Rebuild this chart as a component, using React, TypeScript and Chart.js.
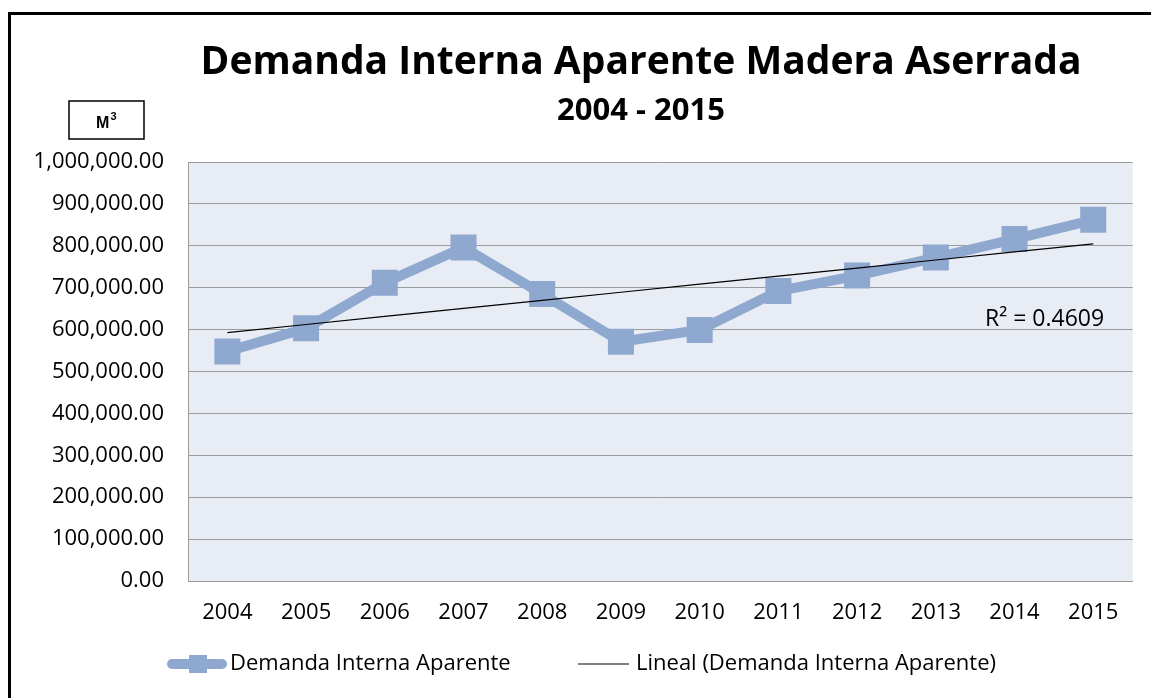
import React, { useEffect, useRef } from "react";
import { Chart, registerables } from "chart.js";

Chart.register(...registerables);

const years = ["2004", "2005", "2006", "2007", "2008", "2009", "2010", "2011", "2012", "2013", "2014", "2015"];
const demanda = [548000, 603000, 712000, 796000, 685000, 571000, 599000, 692000, 729000, 772000, 816000, 862000];
const titleText = "Demanda Interna Aparente Madera Aserrada";
const subtitleText = "2004 - 2015";
const seriesLabel = "Demanda Interna Aparente";
const trendLabel = "Lineal (Demanda Interna Aparente)";
const r2Text = "R² = 0.4609";
const unitText = "M";
const unitSup = "3";

const FONT = "'Open Sans', 'DejaVu Sans', sans-serif";
const SERIES_COLOR = "#8FA8D0";
const GRID_COLOR = "#9C9C9C";

function linearTrend(vals: number[]): number[] {
  const n = vals.length;
  const mx = (n - 1) / 2;
  const my = vals.reduce((a, b) => a + b, 0) / n;
  let sxy = 0;
  let sxx = 0;
  vals.forEach((v, i) => {
    sxy += (i - mx) * (v - my);
    sxx += (i - mx) * (i - mx);
  });
  const slope = sxy / sxx;
  return vals.map((_, i) => my + slope * (i - mx));
}

const decorPlugin = {
  id: "decor",
  beforeDraw(chart: any) {
    const { ctx, chartArea } = chart;
    ctx.save();
    ctx.fillStyle = "#E8ECF4";
    ctx.fillRect(chartArea.left, chartArea.top, chartArea.right - chartArea.left, chartArea.bottom - chartArea.top);
    ctx.restore();
  },
  afterDraw(chart: any) {
    const { ctx } = chart;
    ctx.save();
    // Title
    ctx.fillStyle = "#000";
    ctx.textAlign = "center";
    ctx.textBaseline = "alphabetic";
    ctx.font = `bold 39px ${FONT}`;
    ctx.fillText(titleText, 630, 59);
    ctx.font = `bold 31px ${FONT}`;
    ctx.fillText(subtitleText, 630, 105);

    // Unit box
    ctx.lineWidth = 1.5;
    ctx.strokeStyle = "#000";
    ctx.strokeRect(58, 86, 75, 38);
    ctx.textAlign = "left";
    ctx.font = `bold 16px 'Liberation Sans', Arial, sans-serif`;
    ctx.fillText(unitText, 85, 113);
    ctx.font = `bold 11px 'Liberation Sans', Arial, sans-serif`;
    ctx.fillText(unitSup, 99.5, 105);

    // R² label
    ctx.font = `23px ${FONT}`;
    ctx.textAlign = "left";
    ctx.textBaseline = "middle";
    ctx.fillText(r2Text, 974, 304);

    // Legend
    const ly = 649;
    ctx.lineCap = "round";
    ctx.strokeStyle = SERIES_COLOR;
    ctx.lineWidth = 10;
    ctx.beginPath();
    ctx.moveTo(161, ly);
    ctx.lineTo(211, ly);
    ctx.stroke();
    ctx.fillStyle = SERIES_COLOR;
    ctx.fillRect(187 - 9, ly - 9, 18, 18);
    ctx.fillStyle = "#000";
    ctx.font = `22px ${FONT}`;
    ctx.fillText(seriesLabel, 219, ly);

    ctx.lineCap = "butt";
    ctx.strokeStyle = "#000";
    ctx.lineWidth = 1.2;
    ctx.beginPath();
    ctx.moveTo(567, ly);
    ctx.lineTo(618, ly);
    ctx.stroke();
    ctx.fillText(trendLabel, 625, ly);
    ctx.restore();
  },
};

export default function App() {
  const canvasRef = useRef<HTMLCanvasElement | null>(null);

  useEffect(() => {
    document.documentElement.style.overflow = "hidden";
    document.body.style.overflow = "hidden";
    if (!canvasRef.current) return;
    const trend = linearTrend(demanda);
    const chart = new Chart(canvasRef.current, {
      type: "line",
      data: {
        labels: years,
        datasets: [
          {
            label: trendLabel,
            data: trend,
            borderColor: "#000",
            borderWidth: 1.2,
            pointRadius: 0,
            order: 0,
          },
          {
            label: seriesLabel,
            data: demanda,
            borderColor: SERIES_COLOR,
            backgroundColor: SERIES_COLOR,
            borderWidth: 10,
            pointStyle: "rect",
            pointRadius: 18.4,
            pointBorderWidth: 0,
            pointBackgroundColor: SERIES_COLOR,
            order: 1,
          },
        ],
      },
      options: {
        responsive: false,
        animation: false,
        devicePixelRatio: 1,
        layout: { padding: { top: 147, right: 14, left: 0, bottom: 0 } },
        plugins: {
          legend: { display: false },
          title: { display: false },
          tooltip: { enabled: false },
        },
        scales: {
          x: {
            offset: true,
            afterFit: (s: any) => {
              s.height = 117;
            },
            grid: { display: false, drawTicks: false },
            border: { display: true, color: GRID_COLOR, width: 1 },
            ticks: {
              color: "#000",
              font: { family: FONT, size: 22 },
              padding: 19,
              maxRotation: 0,
              autoSkip: false,
            },
          },
          y: {
            min: 0,
            max: 1000000,
            afterFit: (s: any) => {
              s.width = 177;
            },
            grid: { color: GRID_COLOR, lineWidth: 1, drawTicks: false },
            border: { display: true, color: GRID_COLOR, width: 1 },
            ticks: {
              stepSize: 100000,
              color: "#000",
              font: { family: FONT, size: 22 },
              padding: 24,
              callback: (v: any) =>
                Number(v).toLocaleString("en-US", { minimumFractionDigits: 2, maximumFractionDigits: 2 }),
            },
          },
        },
      },
      plugins: [decorPlugin],
    });
    return () => chart.destroy();
  }, []);

  return (
    <div
      style={{
        position: "fixed",
        top: 12,
        left: 8,
        width: 1143,
        height: 686,
        borderTop: "3px solid #000",
        borderLeft: "3px solid #000",
        boxSizing: "border-box",
        overflow: "hidden",
        background: "#fff",
      }}
    >
      <canvas ref={canvasRef} width={1140} height={683} style={{ display: "block" }} />
    </div>
  );
}
